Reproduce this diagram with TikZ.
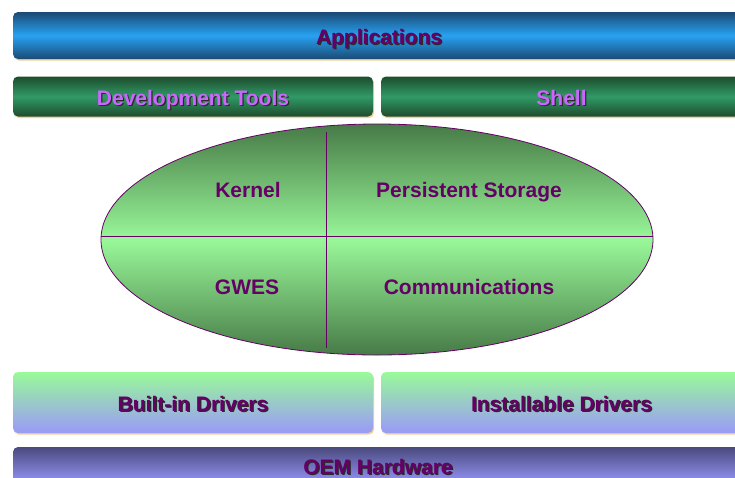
\documentclass[tikz,border=0pt]{standalone}
\usepackage{fontspec}
\setsansfont{Liberation Sans}
\usetikzlibrary{shapes.geometric,shadows}

\definecolor{txtpurple}{HTML}{660066}
\definecolor{txtlilac}{HTML}{CC66FF}
\definecolor{txtshade}{HTML}{2A2A2A}
\definecolor{shadetan}{HTML}{F2CE98}
\definecolor{bluedark}{HTML}{1B4A74}
\definecolor{bluelight}{HTML}{28A2F2}
\definecolor{greendark}{HTML}{1E4C2E}
\definecolor{greenmid}{HTML}{309A66}
\definecolor{coredark}{HTML}{477A47}
\definecolor{corelight}{HTML}{99F899}
\definecolor{coreedge}{HTML}{660066}
\definecolor{drvtop}{HTML}{99FA99}
\definecolor{drvbottom}{HTML}{9A99F8}
\definecolor{oemdark}{HTML}{4A4A7E}
\definecolor{oemlight}{HTML}{9999FF}

% text with a dark offset copy behind it
\newcommand{\shadowed}[2]{\makebox[0pt][l]{\hspace{1.3pt}\raisebox{-1.3pt}{\color{txtshade}#2}}{\color{#1}#2}}

\tikzset{
  layer/.style={rounded corners=5pt, inner sep=0pt, text height=17pt, text depth=0pt,
    font=\sffamily\bfseries\fontsize{21}{24}\selectfont,
    drop shadow={shadow xshift=1pt, shadow yshift=-1.5pt, fill=shadetan, opacity=1}},
  appsbar/.style={layer, top color=bluedark, bottom color=bluedark, middle color=bluelight},
  toolbar/.style={layer, top color=greendark, bottom color=greendark, middle color=greenmid},
  drvbar/.style={layer, top color=drvtop, bottom color=drvbottom},
  oembar/.style={layer, top color=oemdark, bottom color=oemlight},
  core/.style={ellipse, draw=coreedge, line width=0.8pt, inner sep=0pt,
    top color=coredark, bottom color=coredark, middle color=corelight},
  part/.style={font=\sffamily\bfseries\fontsize{21}{24}\selectfont, text=txtpurple,
    text height=15pt, text depth=0pt, inner sep=0pt},
  divider/.style={draw=coreedge, line width=0.8pt}
}

\begin{document}
\begin{tikzpicture}[x=1pt,y=-1pt]
  \clip (0,0) rectangle (735,477);
  \fill[white] (0,0) rectangle (735,477);

  \node[appsbar, minimum width=732pt, minimum height=47pt] (apps) at (379,35.5) {\shadowed{txtpurple}{Applications}};

  \node[toolbar, minimum width=360pt, minimum height=40pt] (devtools) at (193,96.5) {\shadowed{txtlilac}{Development Tools}};
  \node[toolbar, minimum width=361pt, minimum height=40pt] (shell) at (561.5,96.5) {\shadowed{txtlilac}{Shell}};

  \node[core, minimum width=552pt, minimum height=231pt] (core) at (377,239.5) {};
  \coordinate (hleft) at (101,236);
  \coordinate (hright) at (653,236);
  \coordinate (vtop) at (326,132);
  \coordinate (vbot) at (326,348);
  \draw[divider] (hleft) -- (hright);
  \draw[divider] (vtop) -- (vbot);

  \node[part] (kernel) at (248,190) {Kernel};
  \node[part] (storage) at (469,190) {Persistent Storage};
  \node[part] (gwes) at (247,287) {GWES};
  \node[part] (comms) at (469,287) {Communications};

  \node[drvbar, minimum width=360pt, minimum height=61pt] (builtin) at (193,402.5) {\shadowed{txtpurple}{Built-in Drivers}};
  \node[drvbar, minimum width=361pt, minimum height=61pt] (installable) at (561.5,402.5) {\shadowed{txtpurple}{Installable Drivers}};

  \node[oembar, minimum width=730pt, minimum height=38pt] (oem) at (378,466) {\shadowed{txtpurple}{OEM Hardware}};
\end{tikzpicture}
\end{document}
